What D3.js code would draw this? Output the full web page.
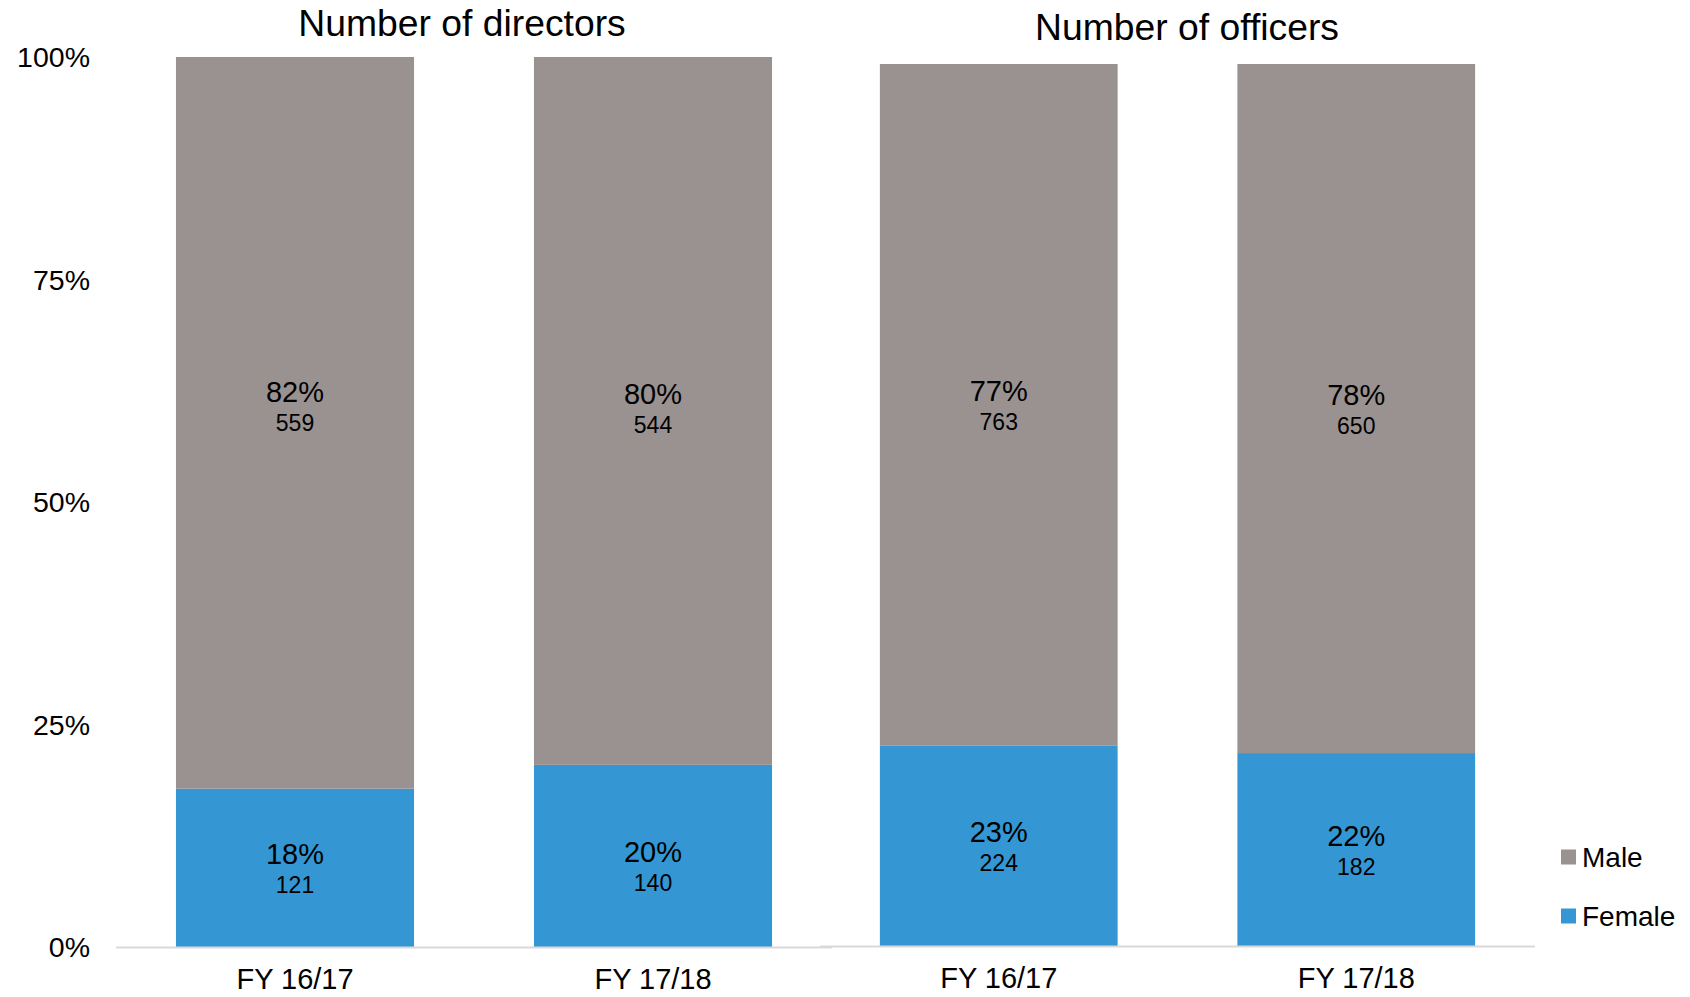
<!DOCTYPE html>
<html>
<head>
<meta charset="utf-8">
<script src="https://cdn.jsdelivr.net/npm/d3@7"></script>
<style>
  html, body { margin: 0; padding: 0; background: #ffffff; }
  svg { display: block; font-family: "Liberation Sans", Arial, Helvetica, sans-serif; }
</style>
</head>
<body>
<svg id="chart" width="1690" height="997"></svg>
<script>
// ---- data ----
const categories = ["FY 16/17", "FY 17/18"];
const seriesNames = ["Female", "Male"];            // stacking order, bottom to top
const legendOrder = ["Male", "Female"];
const panelTitles = ["Number of directors", "Number of officers"];
const directorsFemale = [121, 140];
const directorsMale   = [559, 544];
const officersFemale  = [224, 182];
const officersMale    = [763, 650];
const yTicks = [0, 0.25, 0.5, 0.75, 1];

// ---- styling / layout ----
const colors = { Male: "#9a9290", Female: "#3497d3" };
const fontFamily = '"Liberation Sans", Arial, Helvetica, sans-serif';

// label nudges (pixels) per panel / series / category, to match the original's manual label placement
const panels = [
  { title: panelTitles[0], female: directorsFemale, male: directorsMale,
    x0: 116, x1: 832, yBottom: 947, yTop: 57, titleX: 462, titleY: 36, axis: true,
    nudge: { Male: [-17, -3], Female: [0, 10] } },
  { title: panelTitles[1], female: officersFemale, male: officersMale,
    x0: 820, x1: 1535, yBottom: 946, yTop: 64, titleX: 1187, titleY: 40, axis: false,
    nudge: { Male: [0, 0], Female: [0, 0] } }
];

const svg = d3.select("#chart");
const pct = d3.format(".0%");

panels.forEach(p => {
  const rows = categories.map((c, i) => ({ cat: c, idx: i, Female: p.female[i], Male: p.male[i] }));
  const stacked = d3.stack().keys(seriesNames).offset(d3.stackOffsetExpand)(rows);

  const x = d3.scaleBand().domain(categories).range([p.x0, p.x1])
    .paddingInner(0.335).paddingOuter(0.1675);
  const y = d3.scaleLinear().domain([0, 1]).range([p.yBottom, p.yTop]);

  const g = svg.append("g");

  // bars
  stacked.forEach(layer => {
    g.append("g").selectAll("rect").data(layer).join("rect")
      .attr("x", d => x(d.data.cat))
      .attr("width", x.bandwidth())
      .attr("y", d => y(d[1]))
      .attr("height", d => y(d[0]) - y(d[1]))
      .attr("fill", colors[layer.key]);
  });

  // baseline axis line
  g.append("line")
    .attr("x1", p.x0).attr("x2", p.x1)
    .attr("y1", p.yBottom + 0.5).attr("y2", p.yBottom + 0.5)
    .attr("stroke", "#d9d9d9").attr("stroke-width", 2);

  // data labels
  stacked.forEach(layer => {
    layer.forEach(d => {
      const cx = x(d.data.cat) + x.bandwidth() / 2;
      const cy = (y(d[0]) + y(d[1])) / 2 + p.nudge[layer.key][d.data.idx];
      const total = d.data.Female + d.data.Male;
      const count = d.data[layer.key];
      g.append("text")
        .attr("x", cx).attr("y", cy - 4)
        .attr("text-anchor", "middle")
        .attr("font-size", 29).attr("fill", "#000")
        .text(pct(count / total));
      g.append("text")
        .attr("x", cx).attr("y", cy + 25)
        .attr("text-anchor", "middle")
        .attr("font-size", 23).attr("fill", "#000")
        .text(count);
    });
  });

  // category labels
  const xAxis = d3.axisBottom(x).tickSize(0).tickPadding(0);
  const xa = g.append("g").attr("transform", `translate(0, ${p.yBottom})`).call(xAxis);
  xa.select(".domain").remove();
  xa.selectAll("text")
    .attr("dy", null).attr("y", 42)
    .attr("font-size", 29).attr("font-family", fontFamily).attr("fill", "#000");

  // y axis (only left panel)
  if (p.axis) {
    const yAxis = d3.axisLeft(y).tickValues(yTicks).tickFormat(d3.format(".0%")).tickSize(0).tickPadding(0);
    const ya = g.append("g").attr("transform", `translate(90, 0)`).call(yAxis);
    ya.select(".domain").remove();
    ya.selectAll("text")
      .attr("font-size", 28.5).attr("font-family", fontFamily).attr("fill", "#000")
      .attr("dy", "0.35em");
  }

  // panel title
  svg.append("text")
    .attr("x", p.titleX).attr("y", p.titleY)
    .attr("text-anchor", "middle")
    .attr("font-size", 37.3).attr("fill", "#000")
    .text(p.title);
});

// legend
const legend = svg.append("g");
const legendY = d3.scalePoint().domain(legendOrder).range([857, 916]);
legendOrder.forEach(name => {
  legend.append("rect")
    .attr("x", 1561).attr("y", legendY(name) - 7.5)
    .attr("width", 15).attr("height", 15)
    .attr("fill", colors[name]);
  legend.append("text")
    .attr("x", 1582).attr("y", legendY(name) + 10)
    .attr("font-size", 28).attr("fill", "#000")
    .text(name);
});
</script>
</body>
</html>
